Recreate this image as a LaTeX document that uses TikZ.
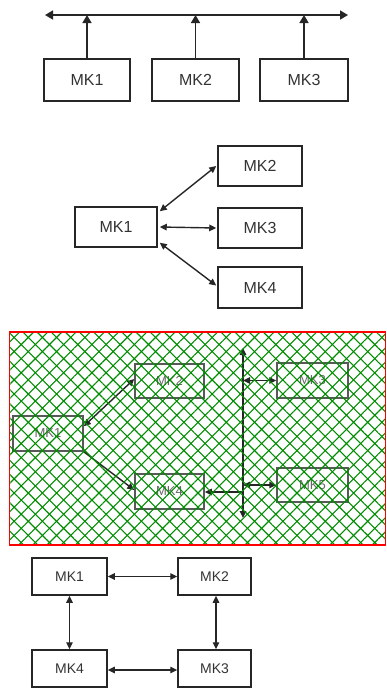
\documentclass[tikz,border=0pt]{standalone}
\usepackage{fontspec}
\setmainfont{Liberation Sans}
\usetikzlibrary{arrows.meta,patterns.meta}
\begin{document}
\begin{tikzpicture}[x=1pt,y=-1pt,
  box/.style={draw=black!85,line width=1.5pt,rectangle,inner sep=0pt,text=black!80,font=\fontsize{16}{16}\selectfont},
  boxs/.style={box,font=\fontsize{14}{14}\selectfont},
  boxg/.style={draw=black!65,line width=1.5pt,rectangle,inner sep=0pt,text=black!60,font=\fontsize{13}{13}\selectfont},
  bigarr/.style={line width=1.7pt,draw=black!85,-{Triangle[length=8pt,width=9pt]}},
  bigbus/.style={line width=1.7pt,draw=black!85,{Triangle[length=8pt,width=9pt]}-{Triangle[length=8pt,width=9pt]}},
  dbl/.style={line width=1.4pt,draw=black!85,{Triangle[length=7pt,width=6.5pt]}-{Triangle[length=7pt,width=6.5pt]}},
  sgl/.style={line width=1.4pt,draw=black!85,-{Triangle[length=7pt,width=6.5pt]}},
]
\useasboundingbox (0,0) rectangle (387,691);

% ---------- section 1 ----------
\coordinate (busL) at (45,15);
\coordinate (busR) at (348,15);
\node[box,minimum width=86pt,minimum height=42pt] (a1) at (87,80) {MK1};
\node[box,minimum width=87pt,minimum height=42pt] (a2) at (195.5,80) {MK2};
\node[box,minimum width=88pt,minimum height=42pt] (a3) at (304,80) {MK3};
\draw[bigbus] (busL) -- (busR);
\draw[bigarr] (a1.north) -- (a1.north |- busL);
\draw[bigarr] (a2.north) -- (a2.north |- busL);
\draw[bigarr] (a3.north) -- (a3.north |- busL);

% ---------- section 2 ----------
\node[box,minimum width=82pt,minimum height=40pt] (b1) at (116,227) {MK1};
\node[box,minimum width=84pt,minimum height=40pt] (b2) at (260,166) {MK2};
\node[box,minimum width=84pt,minimum height=40pt] (b3) at (260,228) {MK3};
\node[box,minimum width=84pt,minimum height=41pt] (b4) at (260,287.5) {MK4};
\draw[dbl] ([shift={(2,5)}]b1.north east) -- ([xshift=-1pt]b2.west);
\draw[dbl] ([xshift=2pt]b1.east) -- ([xshift=-1pt]b3.west);
\draw[dbl] ([shift={(2,-5)}]b1.south east) -- ([shift={(-1,-2)}]b4.west);

% ---------- section 3 ----------
\coordinate (fTL) at (9.5,332);
\coordinate (fBR) at (385.5,545);
\coordinate (vT) at (243,348);
\coordinate (vB) at (243,518);
\node[boxg,minimum width=70pt,minimum height=35pt] (c1) at (48,433.5) {MK1};
\node[boxg,minimum width=69pt,minimum height=34pt] (c2) at (169.5,381) {MK2};
\node[boxg,minimum width=69pt,minimum height=35pt] (c4) at (169.5,491.5) {MK4};
\node[boxg,minimum width=71pt,minimum height=35pt] (c3) at (312.5,380.5) {MK3};
\node[boxg,minimum width=71pt,minimum height=34pt] (c5) at (312.5,485) {MK5};
\draw[dbl] (vT) -- (vB);
\draw[dbl] ([yshift=-11pt]c1.north east) -- ([yshift=2pt]c2.west);
\draw[sgl] (c1.south east) -- ([yshift=1.5pt]c4.west);
\draw[dbl] (c3.west -| vT) -- (c3.west);
\draw[dbl] (c5.west -| vT) -- (c5.west);
\draw[sgl] ([yshift=-0.5pt]c4.east -| vT) -- ([yshift=-0.5pt]c4.east);
\fill[pattern={Lines[angle=45,distance=10pt,line width=1.1pt]},pattern color=green!55!black] (fTL) rectangle (fBR);
\fill[pattern={Lines[angle=-45,distance=10pt,line width=1.1pt]},pattern color=green!55!black] (fTL) rectangle (fBR);
\draw[red,line width=1.5pt] (fTL) rectangle (fBR);

% ---------- section 4 ----------
\node[boxs,minimum width=75pt,minimum height=37pt] (d1) at (69.5,576.5) {MK1};
\node[boxs,minimum width=73pt,minimum height=37pt] (d2) at (214.5,576.5) {MK2};
\node[boxs,minimum width=75pt,minimum height=37pt] (d4) at (69.5,668.5) {MK4};
\node[boxs,minimum width=73pt,minimum height=37pt] (d3) at (214.5,668.5) {MK3};
\draw[dbl] (d1.east) -- (d2.west);
\draw[dbl] (d1.south) -- (d4.north);
\draw[dbl] ([xshift=1.5pt]d2.south) -- ([xshift=1.5pt]d3.north);
\draw[dbl] ([yshift=-1.5pt]d4.east) -- ([yshift=-1.5pt]d3.west);
\end{tikzpicture}
\end{document}
